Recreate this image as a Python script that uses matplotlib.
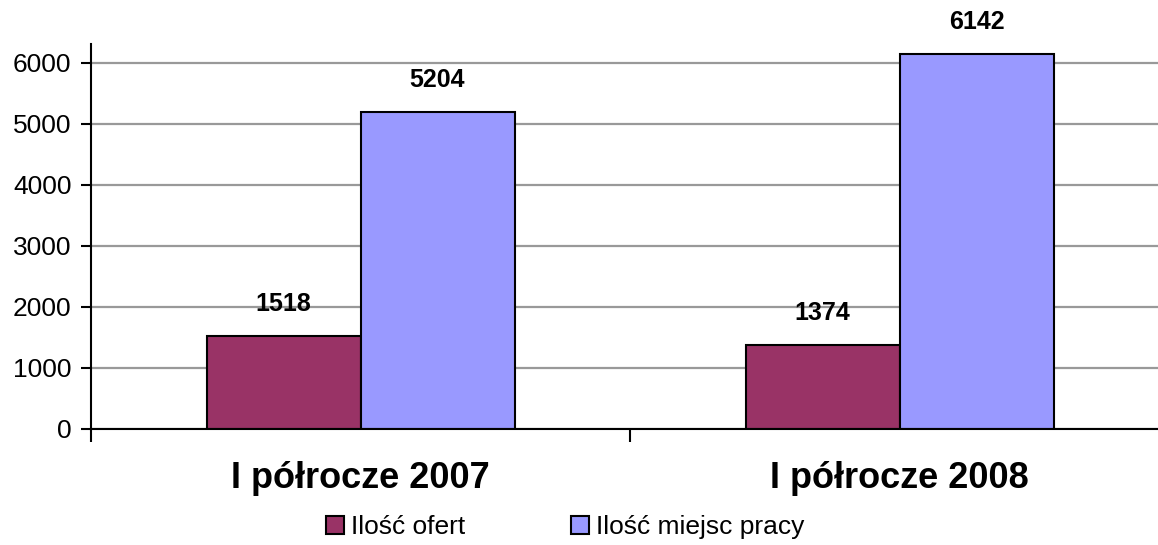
import matplotlib
matplotlib.use('Agg')
import numpy as np
import matplotlib.pyplot as plt
from matplotlib.patches import Patch

categories = ['I półrocze 2007', 'I półrocze 2008']
series_names = ['Ilość ofert', 'Ilość miejsc pracy']
oferty = [1518, 1374]
miejsca = [5204, 6142]
colors = ['#993366', '#9999FF']

plt.rcParams['font.family'] = ['Liberation Sans', 'DejaVu Sans']

fig = plt.figure(figsize=(11.58, 5.45), dpi=100)
ax = fig.add_axes([91 / 1158, 116 / 545, 1078 / 1158, 385 / 545])

x = np.arange(len(categories))
w = 1 / 3.5
b1 = ax.bar(x - w / 2, oferty, w, color=colors[0], edgecolor='black', linewidth=1.5, zorder=3)
b2 = ax.bar(x + w / 2, miejsca, w, color=colors[1], edgecolor='black', linewidth=1.5, zorder=3)

for bars in (b1, b2):
    for r in bars:
        ax.annotate(f'{int(r.get_height())}', (r.get_x() + r.get_width() / 2, r.get_height()),
                    xytext=(0, 23), textcoords='offset points', ha='center', va='center',
                    fontsize=18, fontweight='bold', annotation_clip=False)

ax.set_xlim(-0.5, 1.5)
ax.set_ylim(0, 6311)
ax.set_yticks(range(0, 7000, 1000))
ax.tick_params(axis='y', labelsize=19, length=7, width=1.5, direction='out', pad=7)
ax.yaxis.grid(True, color='#999999', linewidth=1.6, zorder=0)

ax.set_xticks(x)
ax.set_xticklabels(categories, fontsize=26, fontweight='bold')
ax.tick_params(axis='x', which='major', length=0, pad=23)
ax.set_xticks([-0.5, 0.5, 1.5], minor=True)
ax.tick_params(axis='x', which='minor', length=9, width=1.5, direction='out')

for s in ['top', 'right']:
    ax.spines[s].set_visible(False)
for s in ['left', 'bottom']:
    ax.spines[s].set_linewidth(1.5)
    ax.spines[s].set_zorder(4)

handles = [Patch(facecolor=c, edgecolor='black', linewidth=1.5) for c in colors]
fig.legend(handles, series_names, loc='center', bbox_to_anchor=(565 / 1158, 18 / 545), ncol=2,
           frameon=False, fontsize=19, handlelength=0.7, handleheight=0.7,
           handletextpad=0.25, columnspacing=4.0)

plt.savefig('out.png', dpi=100)
